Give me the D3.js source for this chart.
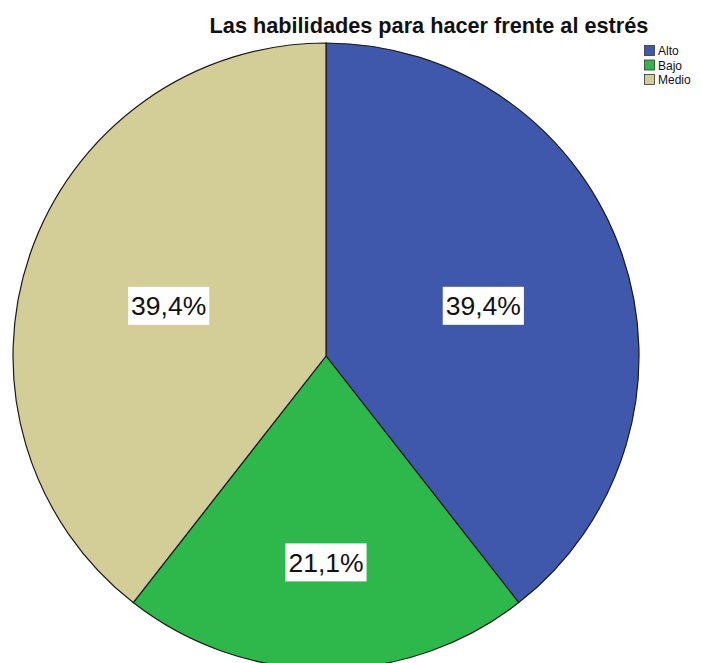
<!DOCTYPE html>
<html><head><meta charset="utf-8">
<script src="https://cdn.jsdelivr.net/npm/d3@7"></script>
<style>body{margin:0;background:#fff;}svg{display:block;}</style>
</head><body>
<svg id="c" width="702" height="663"></svg>
<script>
const categories = ["Alto", "Bajo", "Medio"];
const values = [39.4, 21.1, 39.4];
const labels = ["39,4%", "21,1%", "39,4%"];
const colors = ["#3F58AB", "#2EB84B", "#D3CD97"];
const title = "Las habilidades para hacer frente al estrés";

const svg = d3.select("#c");
const cx = 326, cy = 356, R = 313;

svg.append("text").attr("x", 429).attr("y", 33).attr("text-anchor", "middle")
  .attr("font-family", "Liberation Sans, Arial, sans-serif").attr("font-weight", "bold")
  .attr("font-size", 21.7).attr("fill", "#111").text(title);

const pie = d3.pie().sort(null).value(d => d);
const arcs = pie(values);
const arc = d3.arc().innerRadius(0).outerRadius(R);
const g = svg.append("g").attr("transform", `translate(${cx},${cy})`);
g.selectAll("path").data(arcs).join("path")
  .attr("d", arc).attr("fill", (d, i) => colors[i])
  .attr("stroke", "#1a1a1a").attr("stroke-width", 1.2);

// labels near the (scaled) sector centroid
arcs.forEach((d, i) => {
  const a = (d.startAngle + d.endAngle) / 2;
  const half = (d.endAngle - d.startAngle) / 2;
  const frac = 1.045 * 2 * Math.sin(half) / (3 * half);
  const x = Math.sin(a) * R * frac, y = -Math.cos(a) * R * frac + 4;
  const lg = g.append("g").attr("transform", `translate(${x},${y})`);
  const t = lg.append("text").attr("text-anchor", "middle").attr("dy", "0.36em")
    .attr("font-family", "Liberation Sans, Arial, sans-serif").attr("font-size", 26.5)
    .attr("fill", "#111").text(labels[i]);
  const bb = t.node().getBBox();
  lg.insert("rect", "text").attr("x", bb.x - 3).attr("y", -19).attr("width", bb.width + 6)
    .attr("height", 38).attr("fill", "#fff");
});

// legend
const leg = svg.append("g").attr("transform", "translate(644,45)");
categories.forEach((c, i) => {
  const r = leg.append("g").attr("transform", `translate(0,${i * 14.5})`);
  r.append("rect").attr("x", 0.5).attr("y", 0.5).attr("width", 10).attr("height", 10)
    .attr("fill", colors[i]).attr("stroke", "#333").attr("stroke-width", 0.8);
  r.append("text").attr("x", 14).attr("y", 10)
    .attr("font-family", "Liberation Sans, Arial, sans-serif").attr("font-size", 12)
    .attr("fill", "#111").text(c);
});
</script>
</body></html>
